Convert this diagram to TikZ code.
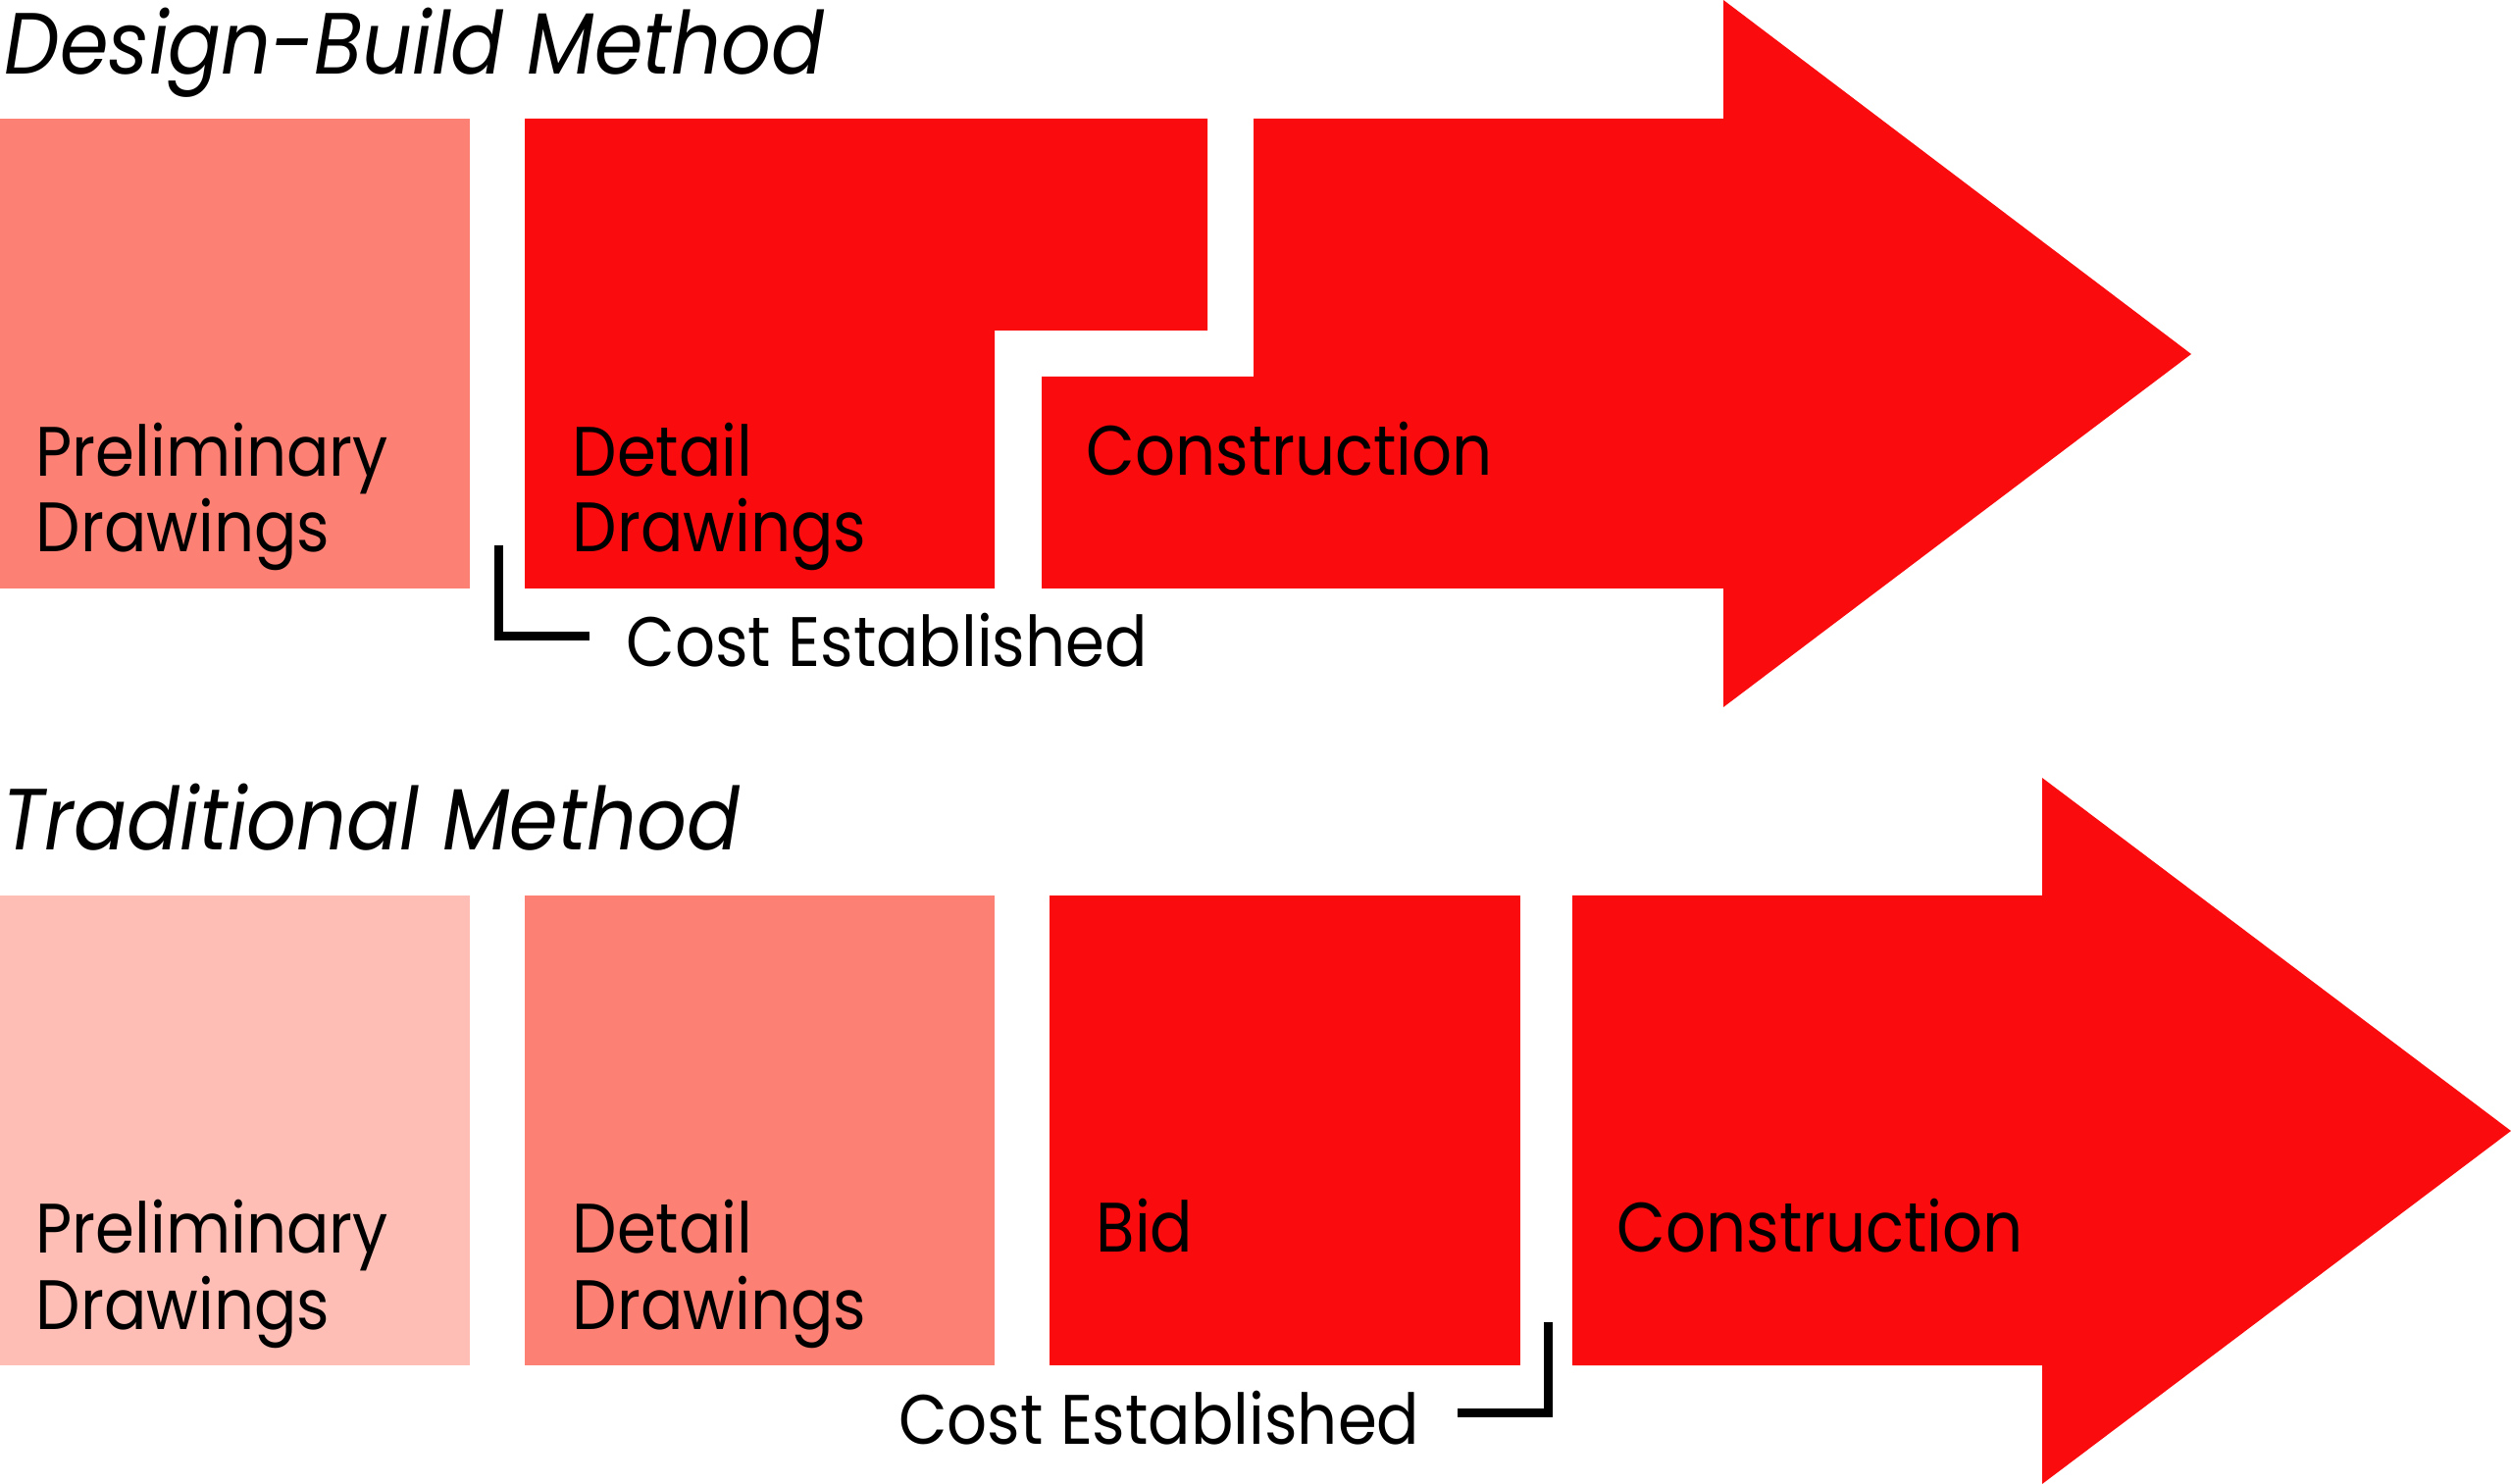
\documentclass[tikz,border=0pt]{standalone}
\usepackage{fontspec}
\setmainfont{Poppins}[FakeStretch=0.9]
\usetikzlibrary{positioning}
\definecolor{stagelight}{RGB}{254,190,181}
\definecolor{stagemid}{RGB}{252,128,115}
\definecolor{stagefull}{RGB}{250,11,14}
\tikzstyle{stagetext}   = [anchor=base west, align=left, inner sep=0pt,
                           font=\fontsize{20.3}{22.1}\selectfont]
\tikzstyle{methodtitle} = [anchor=base west, inner sep=0pt,
                           font=\fontsize{25.2}{28}\selectfont\itshape]
\tikzstyle{costnote}    = [inner sep=0pt, font=\fontsize{20.3}{22.1}\selectfont]
\tikzstyle{bracket}     = [line width=0.09cm, line join=miter, black]

\begin{document}
\begin{tikzpicture}[x=0.01cm, y=-0.01cm]
  \useasboundingbox (0,0) rectangle (2560,1513);

  % Design-Build row
  \node (dbtitle) [methodtitle] at (4,76) {Design-Build Method};
  \fill [stagemid]  (0,121) rectangle (479,600);
  \fill [stagefull] (535,121) -- (1231,121) -- (1231,337) -- (1014,337)
                    -- (1014,600) -- (535,600) -- cycle;
  \fill [stagefull] (1278,121) -- (1757,121) -- (1757,0) -- (2234,361)
                    -- (1757,721) -- (1757,600) -- (1062,600) -- (1062,384)
                    -- (1278,384) -- cycle;
  % base of a two-line node sits on its last line
  \node (dbprelim) [stagetext] at (36,563)   {Preliminary\\Drawings};
  \node (dbdetail) [stagetext] at (583,563)  {Detail\\Drawings};
  \node (dbconstr) [stagetext] at (1107,485) {Construction};

  \coordinate (dbcosttop) at (508,556);
  \coordinate (dbcostend) at (601,648.5);
  \draw [bracket] (dbcosttop) |- (dbcostend);
  \node (dbcost) [costnote, anchor=base west] at (638,680) {Cost Established};

  % Traditional row
  \node (trtitle) [methodtitle] at (2,867) {Traditional Method};
  \fill [stagelight] (0,913) rectangle (479,1392);
  \fill [stagemid]   (535,913) rectangle (1014,1392);
  \fill [stagefull]  (1070,913) rectangle (1550,1392);
  \fill [stagefull]  (1603,913) -- (2082,913) -- (2082,793) -- (2560,1153)
                     -- (2082,1513) -- (2082,1392) -- (1603,1392) -- cycle;
  \node (trprelim) [stagetext] at (36,1355)   {Preliminary\\Drawings};
  \node (trdetail) [stagetext] at (583,1355)  {Detail\\Drawings};
  \node (trbid)    [stagetext] at (1117,1277) {Bid};
  \node (trconstr) [stagetext] at (1648,1277) {Construction};

  \coordinate (trcosttop) at (1578.5,1348);
  \coordinate (trcostend) at (1486,1440.5);
  \draw [bracket] (trcosttop) |- (trcostend);
  \node (trcost) [costnote, anchor=base east] at (1448,1472) {Cost Established};
\end{tikzpicture}
\end{document}
